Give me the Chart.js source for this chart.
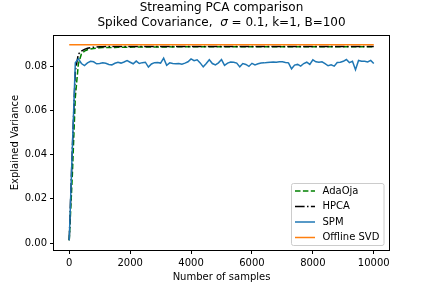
<!DOCTYPE html>
<html>
<head>
<meta charset="utf-8">
<script src="https://cdn.jsdelivr.net/npm/chart.js@4"></script>
<style>
  html, body { margin: 0; padding: 0; background: #fff; }
  #wrap { width: 432px; height: 288px; }
</style>
</head>
<body>
<div id="wrap"><canvas id="pca-chart" width="432" height="288"></canvas></div>
<script>
const titleLines = ["Streaming PCA comparison", "Spiked Covariance,  \u03c3 = 0.1, k=1, B=100"];
const xTicks = [0, 2000, 4000, 6000, 8000, 10000];
const yTicks = [0.00, 0.02, 0.04, 0.06, 0.08];

const samples = [
    0, 100, 200, 300, 400, 500, 600, 700, 800, 900,
    1000, 1100, 1200, 1300, 1400, 1500, 1600, 1700, 1800, 1900,
    2000, 2100, 2200, 2300, 2400, 2500, 2600, 2700, 2800, 2900,
    3000, 3100, 3200, 3300, 3400, 3500, 3600, 3700, 3800, 3900,
    4000, 4100, 4200, 4300, 4400, 4500, 4600, 4700, 4800, 4900,
    5000, 5100, 5200, 5300, 5400, 5500, 5600, 5700, 5800, 5900,
    6000, 6100, 6200, 6300, 6400, 6500, 6600, 6700, 6800, 6900,
    7000, 7100, 7200, 7300, 7400, 7500, 7600, 7700, 7800, 7900,
    8000, 8100, 8200, 8300, 8400, 8500, 8600, 8700, 8800, 8900,
    9000, 9100, 9200, 9300, 9400, 9500, 9600, 9700, 9800, 9900,
    10000
];

const adaOja = [
    0.0013, 0.0300, 0.0660, 0.0810, 0.0855, 0.0868, 0.0874, 0.0878, 0.0880, 0.0882,
    0.0883, 0.0884, 0.0884, 0.0885, 0.0885, 0.0885, 0.0886, 0.0886, 0.0886, 0.0886,
    0.0886, 0.0887, 0.0886, 0.0887, 0.0887, 0.0887, 0.0887, 0.0887, 0.0887, 0.0887,
    0.0887, 0.0887, 0.0887, 0.0888, 0.0887, 0.0888, 0.0888, 0.0888, 0.0888, 0.0888,
    0.0888, 0.0888, 0.0888, 0.0888, 0.0888, 0.0888, 0.0888, 0.0888, 0.0888, 0.0888,
    0.0888, 0.0888, 0.0888, 0.0888, 0.0888, 0.0888, 0.0888, 0.0888, 0.0888, 0.0888,
    0.0888, 0.0888, 0.0888, 0.0888, 0.0888, 0.0888, 0.0888, 0.0888, 0.0888, 0.0888,
    0.0888, 0.0888, 0.0888, 0.0888, 0.0888, 0.0888, 0.0888, 0.0888, 0.0888, 0.0888,
    0.0888, 0.0888, 0.0888, 0.0888, 0.0888, 0.0888, 0.0888, 0.0888, 0.0888, 0.0888,
    0.0888, 0.0888, 0.0888, 0.0888, 0.0888, 0.0888, 0.0888, 0.0888, 0.0888, 0.0888,
    0.0888
];

const hpca = [
    0.0013, 0.0420, 0.0780, 0.0855, 0.0868, 0.0876, 0.0881, 0.0884, 0.0886, 0.0887,
    0.0888, 0.0888, 0.0889, 0.0889, 0.0889, 0.0889, 0.0889, 0.0889, 0.0889, 0.0889,
    0.0889, 0.0889, 0.0889, 0.0889, 0.0889, 0.0889, 0.0889, 0.0889, 0.0889, 0.0889,
    0.0889, 0.0889, 0.0889, 0.0889, 0.0889, 0.0889, 0.0889, 0.0889, 0.0889, 0.0889,
    0.0889, 0.0889, 0.0889, 0.0889, 0.0889, 0.0889, 0.0889, 0.0889, 0.0889, 0.0889,
    0.0889, 0.0889, 0.0889, 0.0889, 0.0889, 0.0889, 0.0889, 0.0889, 0.0889, 0.0889,
    0.0889, 0.0889, 0.0889, 0.0889, 0.0889, 0.0889, 0.0889, 0.0889, 0.0889, 0.0889,
    0.0889, 0.0889, 0.0889, 0.0889, 0.0889, 0.0889, 0.0889, 0.0889, 0.0889, 0.0889,
    0.0889, 0.0889, 0.0889, 0.0889, 0.0889, 0.0889, 0.0889, 0.0889, 0.0889, 0.0889,
    0.0889, 0.0889, 0.0889, 0.0889, 0.0889, 0.0889, 0.0889, 0.0889, 0.0889, 0.0889,
    0.0889
];

const spm = [
    0.0013, 0.0420, 0.0815, 0.0833, 0.0812, 0.0803, 0.0815, 0.0822, 0.0820, 0.0811,
    0.0812, 0.0815, 0.0813, 0.0808, 0.0806, 0.0813, 0.0818, 0.0814, 0.0819, 0.0825,
    0.0818, 0.0811, 0.0823, 0.0812, 0.0816, 0.0818, 0.0796, 0.0810, 0.0816, 0.0817,
    0.0814, 0.0836, 0.0804, 0.0815, 0.0812, 0.0811, 0.0812, 0.0809, 0.0814, 0.0820,
    0.0833, 0.0825, 0.0829, 0.0815, 0.0797, 0.0812, 0.0829, 0.0812, 0.0806, 0.0815,
    0.0830, 0.0804, 0.0814, 0.0819, 0.0818, 0.0814, 0.0797, 0.0812, 0.0808, 0.0799,
    0.0813, 0.0806, 0.0811, 0.0814, 0.0815, 0.0817, 0.0818, 0.0819, 0.0818, 0.0820,
    0.0820, 0.0817, 0.0815, 0.0788, 0.0805, 0.0808, 0.0800, 0.0812, 0.0818, 0.0808,
    0.0829, 0.0820, 0.0818, 0.0820, 0.0812, 0.0802, 0.0806, 0.0800, 0.0817, 0.0818,
    0.0822, 0.0830, 0.0816, 0.0822, 0.0784, 0.0826, 0.0822, 0.0822, 0.0819, 0.0826,
    0.0812
];

const svdSamples = [0, 10000];
const offlineSvd = [0.0897, 0.0897];

const FONT = "'DejaVu Sans', sans-serif";

function toPoints(xs, ys) {
    return xs.map((x, i) => ({ x: x, y: ys[i] }));
}

// two-line title centred over the axes, sigma drawn in italic like mathtext
const titlePlugin = {
    id: 'axesTitle',
    afterDraw(chart) {
        const a = chart.chartArea;
        const ctx = chart.ctx;
        const cx = (a.left + a.right) / 2;
        const regular = '12px ' + FONT;
        const italic = 'italic 12px ' + FONT;
        ctx.save();
        ctx.fillStyle = '#000';
        ctx.textBaseline = 'middle';
        titleLines.forEach((line, i) => {
            const y = 7.5 + i * 15;
            const parts = line.split('\u03c3');
            const pieces = [];
            parts.forEach((p, j) => {
                if (j > 0) pieces.push({ text: '\u03c3', font: italic });
                if (p.length) pieces.push({ text: p, font: regular });
            });
            let total = 0;
            pieces.forEach(pc => { ctx.font = pc.font; pc.w = ctx.measureText(pc.text).width; total += pc.w; });
            let x = cx - total / 2;
            ctx.textAlign = 'left';
            pieces.forEach(pc => {
                ctx.font = pc.font;
                ctx.fillText(pc.text, x, y);
                x += pc.w;
            });
        });
        ctx.restore();
    }
};

// frame around the axes (matplotlib spines)
const framePlugin = {
    id: 'frame',
    afterDatasetsDraw(chart) {
        const a = chart.chartArea;
        const ctx = chart.ctx;
        ctx.save();
        ctx.strokeStyle = '#000';
        ctx.lineWidth = 1;
        ctx.strokeRect(Math.round(a.left) - 0.5, Math.round(a.top) + 0.5,
                       Math.round(a.right - a.left) + 1, Math.round(a.bottom - a.top));
        ctx.restore();
    }
};

// boxed legend in the lower right corner
const legendPlugin = {
    id: 'boxLegend',
    afterDraw(chart) {
        const a = chart.chartArea;
        const ctx = chart.ctx;
        const w = 92.5, h = 62;
        const x0 = a.right - 5 - w;
        const y0 = a.bottom - 4.5 - h;
        ctx.save();
        ctx.beginPath();
        ctx.roundRect(x0, y0, w, h, 2);
        ctx.fillStyle = 'rgba(255,255,255,0.8)';
        ctx.fill();
        ctx.strokeStyle = '#cccccc';
        ctx.lineWidth = 1;
        ctx.stroke();
        ctx.font = '10px ' + FONT;
        ctx.textBaseline = 'middle';
        ctx.textAlign = 'left';
        chart.data.datasets.forEach((ds, i) => {
            const y = y0 + 7.5 + i * 15.5;
            ctx.beginPath();
            ctx.setLineDash(ds.borderDash || []);
            ctx.strokeStyle = ds.borderColor;
            ctx.lineWidth = ds.borderWidth;
            ctx.moveTo(x0 + 3.5, y);
            ctx.lineTo(x0 + 23.5, y);
            ctx.stroke();
            ctx.setLineDash([]);
            ctx.fillStyle = '#000';
            ctx.fillText(ds.label, x0 + 31, y);
        });
        ctx.restore();
    }
};

const config = {
    type: 'line',
    data: {
        datasets: [
            {
                label: 'AdaOja',
                data: toPoints(samples, adaOja),
                borderColor: '#008000',
                borderWidth: 1.5,
                borderDash: [5.5, 2.4],
                order: 4
            },
            {
                label: 'HPCA',
                data: toPoints(samples, hpca),
                borderColor: '#000000',
                borderWidth: 1.5,
                borderDash: [9.6, 2.4, 1.5, 2.4],
                order: 3
            },
            {
                label: 'SPM',
                data: toPoints(samples, spm),
                borderColor: '#1f77b4',
                borderWidth: 1.5,
                order: 2
            },
            {
                label: 'Offline SVD',
                data: toPoints(svdSamples, offlineSvd),
                borderColor: '#ff7f0e',
                borderWidth: 1.5,
                order: 1
            }
        ]
    },
    options: {
        responsive: false,
        animation: false,
        layout: { padding: { left: 0, right: 43, top: 35, bottom: 0 } },
        elements: { point: { radius: 0 }, line: { tension: 0, fill: false } },
        plugins: {
            legend: { display: false },
            tooltip: { enabled: false },
            title: { display: false }
        },
        scales: {
            x: {
                type: 'linear',
                min: -500,
                max: 10500,
                afterBuildTicks: (scale) => { scale.ticks = xTicks.map(v => ({ value: v })); },
                afterFit: (scale) => { scale.height = 38; },
                grid: { drawOnChartArea: false, drawTicks: true, tickLength: 4, color: '#000' },
                border: { display: false },
                ticks: {
                    color: '#000',
                    padding: 3,
                    maxRotation: 0,
                    font: { family: FONT, size: 10 },
                    callback: (v) => String(v)
                },
                title: {
                    display: true,
                    text: 'Number of samples',
                    color: '#000',
                    font: { family: FONT, size: 10, lineHeight: 1.2 },
                    padding: { top: 0, bottom: 5 }
                }
            },
            y: {
                type: 'linear',
                min: -0.0031,
                max: 0.0941,
                afterBuildTicks: (scale) => { scale.ticks = yTicks.map(v => ({ value: v })); },
                afterFit: (scale) => { scale.width = 54; },
                grid: { drawOnChartArea: false, drawTicks: true, tickLength: 4, color: '#000' },
                border: { display: false },
                ticks: {
                    color: '#000',
                    padding: 3,
                    font: { family: FONT, size: 10 },
                    callback: (v) => v.toFixed(2)
                },
                title: {
                    display: true,
                    text: 'Explained Variance',
                    color: '#000',
                    font: { family: FONT, size: 10, lineHeight: 1.2 },
                    padding: { top: 9, bottom: 0 }
                }
            }
        }
    },
    plugins: [framePlugin, legendPlugin, titlePlugin]
};

new Chart(document.getElementById('pca-chart'), config);
</script>
</body>
</html>
